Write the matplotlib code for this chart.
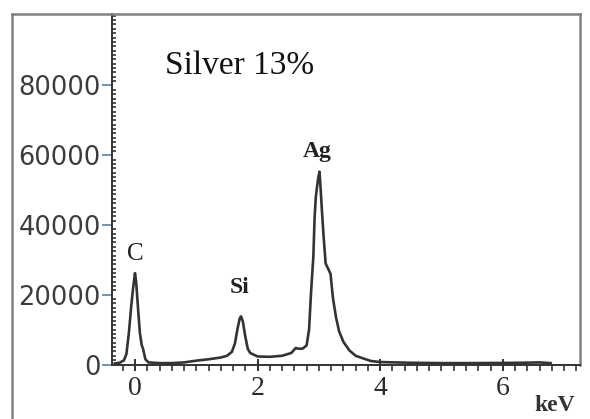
import matplotlib
matplotlib.use("Agg")
import matplotlib.pyplot as plt
from matplotlib.ticker import MultipleLocator, FixedLocator
from matplotlib.lines import Line2D

# Spectrum (energy in keV, counts)
energy = [-0.33, -0.25, -0.18, -0.14, -0.10, -0.06, -0.03, 0.00, 0.02, 0.05,
          0.08, 0.11, 0.13, 0.17, 0.22, 0.40, 0.60, 0.80, 1.00, 1.20,
          1.40, 1.50, 1.58, 1.63, 1.67, 1.71, 1.73, 1.76, 1.80, 1.84,
          1.88, 2.00, 2.20, 2.40, 2.55, 2.62, 2.68, 2.74, 2.80, 2.84,
          2.87, 2.91, 2.93, 2.95, 2.97, 2.99, 3.01, 3.03, 3.05, 3.08,
          3.11, 3.15, 3.19, 3.23, 3.28, 3.33, 3.40, 3.50, 3.60, 3.73,
          3.85, 4.00, 4.50, 5.00, 5.50, 6.00, 6.30, 6.60, 6.78]
counts = [300, 500, 1200, 3000, 9000, 17000, 22000, 26200, 23500, 16000,
          9000, 5500, 4600, 1500, 600, 400, 400, 600, 1100, 1500,
          2000, 2500, 3600, 6000, 10000, 13300, 13800, 12300, 8000, 4500,
          3300, 2300, 2200, 2500, 3300, 4700, 4500, 4600, 5500, 10000,
          20000, 31000, 42000, 48000, 51000, 53500, 55300, 50000, 44000, 36000,
          29000, 27500, 26000, 19000, 13500, 9500, 6500, 4000, 2500, 1700,
          1000, 700, 500, 400, 400, 450, 500, 600, 400]

xticks = [0, 2, 4, 6]
yticks = [0, 20000, 40000, 60000, 80000]
peak_labels = ["C", "Si", "Ag"]
peak_pos = [(0.0, 31800), (1.70, 22000), (2.97, 61000)]
title_text = "Silver 13%"
unit_text = "keV"

W, H = 590, 419
fig = plt.figure(figsize=(W / 100, H / 100), dpi=100)
ax = fig.add_axes([112 / W, (H - 364.5) / H, (580 - 112) / W, (364.5 - 14) / H])

ax.plot(energy, counts, color="#333333", lw=1.9)
ax.set_xlim(-0.375, 7.26)
ax.set_ylim(0, 100500)

for lab, (px, py) in zip(peak_labels, peak_pos):
    ax.text(px, py, lab, family="Liberation Serif",
            fontsize=18 if lab == "C" else 17,
            ha="center", va="center", color="#222222",
            fontweight="normal" if lab == "C" else "bold")
ax.text(0.49, 85800, title_text, family="Liberation Serif", fontsize=24,
        ha="left", va="center", color="#111111")

# spines
ax.spines["top"].set_visible(False)
ax.spines["right"].set_color("#808080")
ax.spines["right"].set_linewidth(1.8)
ax.spines["left"].set_color("#333333")
ax.spines["left"].set_linewidth(1.4)
ax.spines["bottom"].set_color("#333333")
ax.spines["bottom"].set_linewidth(1.4)

# y ticks
ax.yaxis.set_major_locator(FixedLocator(yticks))
ax.yaxis.set_minor_locator(MultipleLocator(1250))
ax.set_yticklabels([str(v) for v in yticks], family="DejaVu Sans",
                   fontsize=18.5, color="#3c3c3c")
ax.tick_params(axis="y", which="major", direction="out", length=7, width=1.2,
               color="#5b7fa6", pad=1)
ax.tick_params(axis="y", which="minor", direction="in", length=3, width=1.2,
               color="#333333")

# x ticks
ax.xaxis.set_major_locator(FixedLocator(xticks))
ax.xaxis.set_minor_locator(MultipleLocator(0.2))
ax.set_xticklabels([str(v) for v in xticks], family="Liberation Serif",
                   fontsize=20, color="#2a2a2a")
ax.tick_params(axis="x", which="major", direction="inout", length=9, width=1.4,
               color="#333333", pad=4)
ax.tick_params(axis="x", which="minor", direction="out", length=4, width=1.2,
               color="#333333")

fig.text(555 / W, 1 - 405 / H, unit_text, family="Liberation Serif",
         fontsize=17, fontweight="bold", ha="center", va="center",
         color="#333333")

# outer frame
ytop = 1 - 14 / H
fig.add_artist(Line2D([12 / W, 580 / W], [ytop, ytop], transform=fig.transFigure,
                      color="#808080", lw=1.8))
fig.add_artist(Line2D([12 / W, 12 / W], [0, ytop], transform=fig.transFigure,
                      color="#808080", lw=1.8))

fig.savefig("out.png", dpi=100)
